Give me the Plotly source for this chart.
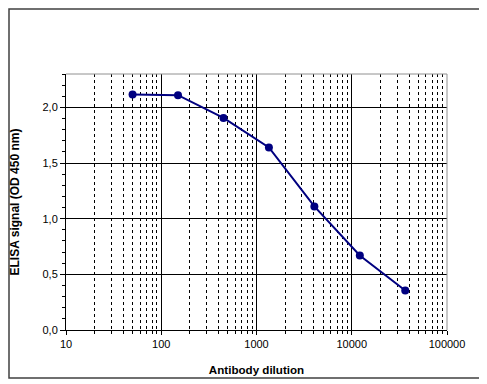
import plotly.graph_objects as go

dilution = [50, 150, 450, 1350, 4050, 12150, 36450]
signal = [2.115, 2.11, 1.905, 1.64, 1.11, 0.67, 0.355]
x_tickvals = [10, 100, 1000, 10000, 100000]
x_ticktext = ["10", "100", "1000", "10000", "100000"]
y_tickvals = [0, 0.5, 1.0, 1.5, 2.0]
y_ticktext = ["0,0", "0,5", "1,0", "1,5", "2,0"]

# page has an 8px body margin, so the figure is drawn 8px smaller / shifted
W, H = 479, 376
L, R, T, B = 58, 40, 66, 54
pw, ph = W - L - R, H - T - B

def px_x(p):
    return (p - L) / pw

def px_y(p):
    return (H - B - p) / ph

fig = go.Figure()
fig.add_trace(go.Scatter(
    x=dilution, y=signal, mode="lines+markers",
    line=dict(color="#000080", width=2),
    marker=dict(color="#000080", size=8),
    showlegend=False,
))

font = dict(family="Liberation Sans, Arial, sans-serif", size=11, color="black")
xtitle_font = dict(family="Liberation Sans, Arial, sans-serif", size=11.6, color="black")
ytitle_font = dict(family="Liberation Sans, Arial, sans-serif", size=12, color="black")

fig.update_layout(
    width=W, height=H,
    margin=dict(l=L, r=R, t=T, b=B, pad=0, autoexpand=False),
    paper_bgcolor="white", plot_bgcolor="white",
    font=font,
    separators=",.",
    xaxis=dict(
        type="log", range=[1, 5], automargin=False,
        tickvals=x_tickvals, ticktext=x_ticktext,
        showgrid=True, gridcolor="black", gridwidth=1,
        showline=True, linecolor="black", linewidth=1,
        ticks="outside", ticklen=4, tickcolor="black",
        minor=dict(dtick="D1", showgrid=True, gridcolor="black", griddash="dot",
                   gridwidth=1, ticks="outside", ticklen=3, tickcolor="black"),
        title=dict(text="<b>Antibody dilution</b>", font=xtitle_font, standoff=16),
        zeroline=False,
        tickfont=font,
    ),
    yaxis=dict(
        range=[0, 2.3], automargin=False,
        tickvals=y_tickvals, ticktext=y_ticktext,
        showgrid=True, gridcolor="black", gridwidth=1,
        showline=True, linecolor="black", linewidth=1,
        ticks="outside", ticklen=5, tickcolor="black",
        minor=dict(dtick=0.1, showgrid=False, ticks="outside", ticklen=3, tickcolor="black"),
        title=dict(text="<b>ELISA signal (OD 450 nm)</b>", font=ytitle_font, standoff=28),
        zeroline=False,
        tickfont=font,
    ),
    shapes=[
        dict(type="line", xref="paper", yref="paper", x0=0, x1=1, y0=1, y1=1,
             line=dict(color="#909090", width=1)),
        dict(type="line", xref="paper", yref="paper", x0=1, x1=1, y0=0, y1=1,
             line=dict(color="#909090", width=1)),
        dict(type="rect", xref="paper", yref="paper",
             x0=px_x(1), x1=px_x(474), y0=px_y(370), y1=px_y(1),
             line=dict(color="#404040", width=1.5)),
    ],
)

fig.write_html("out.html")
